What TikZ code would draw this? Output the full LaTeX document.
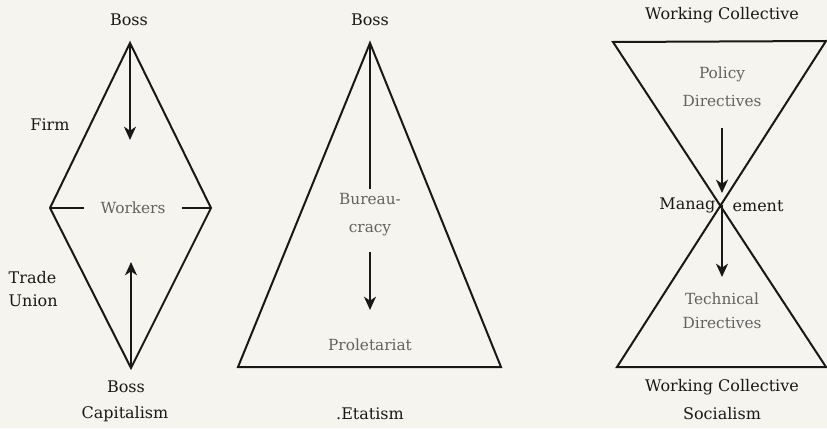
\documentclass[tikz,border=0pt]{standalone}
\usepackage{fontspec}
\setmainfont{DejaVu Serif}
\usepackage{xcolor}
\usetikzlibrary{arrows.meta}
\definecolor{scanpaper}{HTML}{F6F4EF}
\definecolor{scanink}{HTML}{181818}
\definecolor{scangray}{HTML}{626262}

\begin{document}
\begin{tikzpicture}[x=0.75pt,y=-0.75pt,
  every node/.style={font=\fontsize{12}{17}\selectfont,text=scanink},
  inlabel/.style={text=scangray,font=\fontsize{11.5}{21}\selectfont},
  outline/.style={scanink,line width=1.5pt},
  flow/.style={scanink,line width=1.3pt,-{Stealth[length=10pt,width=9pt,inset=3pt]}}]
  \fill[scanpaper] (0,0) rectangle (827,428);
  % capitalism
  \coordinate (capT) at (130,43);
  \coordinate (capL) at (50,208);
  \coordinate (capR) at (211,208);
  \coordinate (capB) at (131,368);
  \draw[outline] (capT) -- (capR) -- (capB) -- (capL) -- cycle;
  \node (bossA) at (129,20) {Boss};
  \node (firm) at (50,125) {Firm};
  \node[align=left,anchor=west] (union) at (4,289) {Trade\\Union};
  \node[inlabel,inner xsep=12pt] (workers) at (133,208) {Workers};
  \draw[outline,line width=1.2pt] (capL) -- (workers.west);
  \draw[outline,line width=1.2pt] (workers.east) -- (capR);
  \coordinate (capDown) at (130,140);
  \coordinate (capUp) at (131,262);
  \draw[flow] (capT) -- (capDown);
  \draw[flow] (capB) -- (capUp);
  \node (bossB) at (126,387) {Boss};
  \node (capit) at (125,414) {Capitalism};
  % etatism
  \coordinate (etaT) at (370,43);
  \coordinate (etaL) at (238,367);
  \coordinate (etaR) at (501,367);
  \draw[outline] (etaT) -- (etaR) -- (etaL) -- cycle;
  \node (bossC) at (370,20) {Boss};
  \node[inlabel,align=center] (bureau) at (370,215) {Bureau-\\cracy};
  \node[inlabel] (prolet) at (370,345) {Proletariat};
  \coordinate (etaStart) at (370,252);
  \coordinate (etaDown) at (370,310);
  \draw[outline,line width=1.3pt] (etaT) -- (bureau.north);
  \draw[flow] (etaStart) -- (etaDown);
  \node (etat) at (370,414) {.Etatism};
  % socialism
  \coordinate (socTL) at (613,42);
  \coordinate (socTR) at (826,41);
  \coordinate (socBL) at (617,367);
  \coordinate (socBR) at (826,367);
  \coordinate (socX) at (722,205);
  \draw[outline] (socTL) -- (socTR) -- (socBL) -- (socBR) -- cycle;
  \node (colA) at (722,15) {Working Collective};
  \node[inlabel,align=center] (policy) at (722,87) {Policy\\Directives};
  \node[inlabel,align=center,font=\fontsize{11.5}{18}\selectfont] (tech) at (722,311) {Technical\\Directives};
  \node[anchor=east,inner sep=1pt] (manag) at (717,205) {Manag};
  \node[anchor=west,inner sep=1pt] (ement) at (731,206) {ement};
  \coordinate (socStart) at (722,128);
  \coordinate (socIn) at (722,193);
  \coordinate (socOut) at (722,277);
  \draw[flow] (socStart) -- (socIn);
  \draw[flow] (socX) -- (socOut);
  \node (colB) at (722,387) {Working Collective};
  \node (social) at (722,414) {Socialism};
\end{tikzpicture}
\end{document}
